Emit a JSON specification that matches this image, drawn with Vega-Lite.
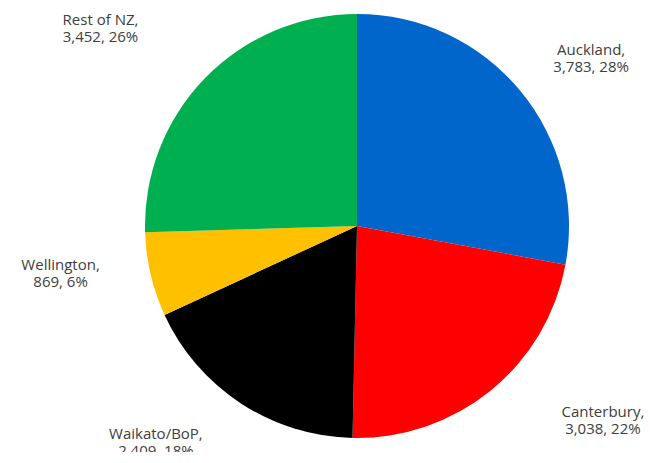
{
  "$schema": "https://vega.github.io/schema/vega-lite/v6.json",
  "width": 714,
  "height": 452,
  "autosize": {"type": "none"},
  "padding": 0,
  "background": "white",
  "view": {"stroke": null},
  "data": {
    "values": [
      {"region": "Auckland", "count": 3783, "label": "Auckland,\n3,783, 28%", "order": 1},
      {"region": "Canterbury", "count": 3038, "label": "Canterbury,\n3,038, 22%", "order": 2},
      {"region": "Waikato/BoP", "count": 2409, "label": "Waikato/BoP,\n2,409, 18%", "order": 3},
      {"region": "Wellington", "count": 869, "label": "Wellington,\n869, 6%", "order": 4},
      {"region": "Rest of NZ", "count": 3452, "label": "Rest of NZ,\n3,452, 26%", "order": 5}
    ]
  },
  "encoding": {
    "theta": {"field": "count", "type": "quantitative", "stack": true},
    "order": {"field": "order", "type": "quantitative"}
  },
  "layer": [
    {
      "mark": {"type": "arc", "outerRadius": 212},
      "encoding": {
        "color": {
          "field": "region",
          "type": "nominal",
          "scale": {
            "domain": ["Auckland", "Canterbury", "Waikato/BoP", "Wellington", "Rest of NZ"],
            "range": ["#0066CC", "#FF0000", "#000000", "#FFC000", "#00B050"]
          },
          "legend": null
        }
      }
    },
    {
      "transform": [{"filter": "datum.region == 'Auckland'"}],
      "mark": {"type": "text", "radius": 285, "dx": 15, "dy": 6, "font": "Open Sans", "fontSize": 15, "color": "#404040", "lineBreak": "\n", "align": "center", "baseline": "middle"},
      "encoding": {"text": {"field": "label"}}
    },
    {
      "mark": {"type": "text", "radius": 285, "dx": 66, "dy": -35, "font": "Open Sans", "fontSize": 15, "color": "#404040", "lineBreak": "\n", "align": "center", "baseline": "middle"},
      "encoding": {"text": {"field": "label"}, "opacity": {"condition": {"test": "datum.region == 'Canterbury'", "value": 1}, "value": 0}}
    },
    {
      "mark": {"type": "text", "radius": 285, "dx": -45, "dy": -30, "font": "Open Sans", "fontSize": 15, "color": "#404040", "lineBreak": "\n", "align": "center", "baseline": "middle"},
      "encoding": {"text": {"field": "label"}, "opacity": {"condition": {"test": "datum.region == 'Waikato/BoP'", "value": 1}, "value": 0}}
    },
    {
      "mark": {"type": "text", "radius": 285, "dx": -19, "dy": -26, "font": "Open Sans", "fontSize": 15, "color": "#404040", "lineBreak": "\n", "align": "center", "baseline": "middle"},
      "encoding": {"text": {"field": "label"}, "opacity": {"condition": {"test": "datum.region == 'Wellington'", "value": 1}, "value": 0}}
    },
    {
      "mark": {"type": "text", "radius": 285, "dx": -52, "dy": -7, "font": "Open Sans", "fontSize": 15, "color": "#404040", "lineBreak": "\n", "align": "center", "baseline": "middle"},
      "encoding": {"text": {"field": "label"}, "opacity": {"condition": {"test": "datum.region == 'Rest of NZ'", "value": 1}, "value": 0}}
    }
  ]
}
